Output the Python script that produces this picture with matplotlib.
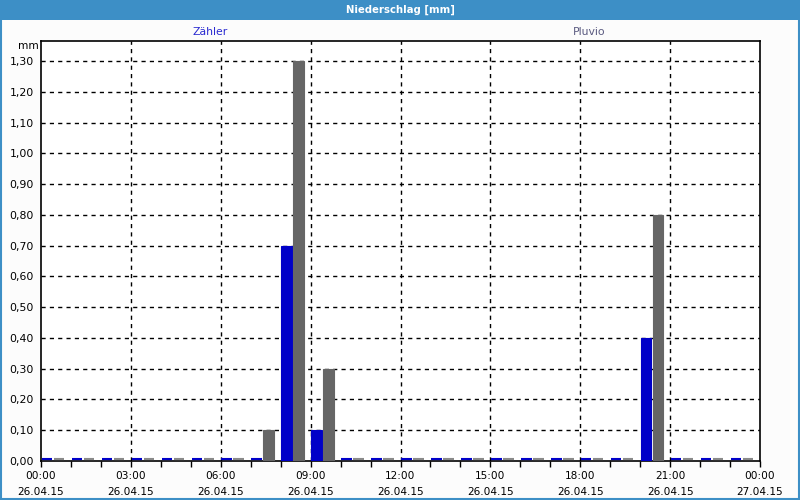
import matplotlib
matplotlib.use("Agg")
import matplotlib.pyplot as plt
from matplotlib.patches import Rectangle
from matplotlib.transforms import offset_copy
import numpy as np

hours = list(range(24))
zaehler = [0, 0, 0, 0, 0, 0, 0, 0, 0.70, 0.10, 0, 0, 0, 0, 0, 0, 0, 0, 0, 0, 0.40, 0, 0, 0]
pluvio = [0, 0, 0, 0, 0, 0, 0, 0.10, 1.30, 0.30, 0, 0, 0, 0, 0, 0, 0, 0, 0, 0, 0.80, 0, 0, 0]
x_tick_hours = [0, 3, 6, 9, 12, 15, 18, 21, 24]
x_tick_labels = ["00:00\n26.04.15", "03:00\n26.04.15", "06:00\n26.04.15", "09:00\n26.04.15",
                 "12:00\n26.04.15", "15:00\n26.04.15", "18:00\n26.04.15", "21:00\n26.04.15",
                 "00:00\n27.04.15"]
y_ticks = [round(0.1 * i, 2) for i in range(14)]
y_tick_labels = [f"{v:.2f}".replace(".", ",") for v in y_ticks]

plt.rcParams['font.family'] = ['DejaVu Sans']
fig = plt.figure(figsize=(8, 5), dpi=100, facecolor="#fcfcfc")
ax = fig.add_axes([41/800, 1 - 461/500, (760-41)/800, (461-41)/500])
ax.set_facecolor("#ffffff")

blue = "#0000c8"
gray = "#666666"
bw = 0.35
h = np.array(hours)
z = np.array(zaehler)
p = np.array(pluvio)
ax.bar(h + 0.2, z, width=bw, color=blue, edgecolor=blue, linewidth=0.8, zorder=3)
ax.bar(h + 0.6, p, width=bw, color=gray, edgecolor=gray, linewidth=0.8, zorder=3)

# zero-value markers drawn as thin dashes just above the baseline
off = offset_copy(ax.transData, fig=fig, x=0, y=2, units='dots')
zz = h[z == 0]
pz = h[p == 0]
ax.hlines(z[z == 0], zz + 0.2 - bw/2, zz + 0.2 + bw/2, colors=blue, linewidth=1.5,
          transform=off, zorder=4)
ax.hlines(p[p == 0], pz + 0.6 - bw/2, pz + 0.6 + bw/2, colors="#8a8a8a", linewidth=1.5,
          transform=off, zorder=4)

ax.set_xlim(0, 24)
ax.set_ylim(0, 1.365)
ax.set_xticks(x_tick_hours)
ax.set_xticklabels(x_tick_labels, fontsize=7.6, linespacing=1.8)
ax.set_xticks(range(25), minor=True)
ax.set_yticks(y_ticks)
ax.set_yticklabels(y_tick_labels, fontsize=7.8)
ax.tick_params(axis='x', which='both', direction='out', length=4, width=1, pad=3)
ax.tick_params(axis='y', which='both', length=0, pad=5)

for v in y_ticks[1:]:
    ax.axhline(v, color="black", linestyle=(0, (3, 3)), linewidth=1, zorder=1)
for xv in x_tick_hours[1:-1]:
    ax.axvline(xv, color="black", linestyle=(0, (3, 3)), linewidth=1, zorder=1)

for sp in ax.spines.values():
    sp.set_color("black")
    sp.set_linewidth(1.2)

fig.text(28/800, 1 - 46/500, "mm", fontsize=7.6, ha="center", va="center")
fig.text(210/800, 1 - 32/500, "Zähler", fontsize=7.8, ha="center", va="center", color="#2a2ad0")
fig.text(589/800, 1 - 32/500, "Pluvio", fontsize=7.8, ha="center", va="center", color="#5a5a80")

# title bar
fig.patches.append(Rectangle((0, 1 - 20/500), 1, 20/500, transform=fig.transFigure,
                             facecolor="#3d8fc6", edgecolor="none", zorder=0))
fig.text(0.5, 1 - 10/500, "Niederschlag [mm]", fontsize=7.3, fontweight="bold",
         color="white", ha="center", va="center")
fig.patches.append(Rectangle((0.001, 0.002), 0.998, 0.997, transform=fig.transFigure,
                             facecolor="none", edgecolor="#3d8fc6", linewidth=1.5, zorder=0))

fig.savefig("out.png", dpi=100, facecolor=fig.get_facecolor())
